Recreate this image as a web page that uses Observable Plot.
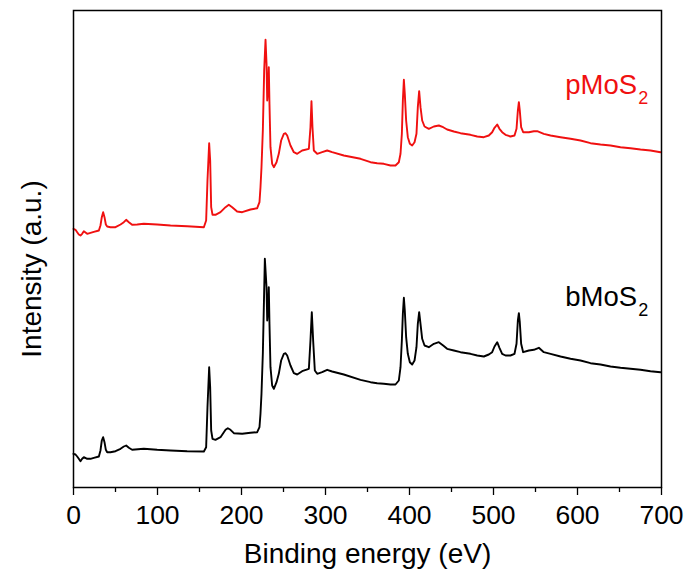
<!DOCTYPE html>
<html>
<head>
<meta charset="utf-8">
<script src="https://cdn.jsdelivr.net/npm/d3@7"></script>
<script src="https://cdn.jsdelivr.net/npm/@observablehq/plot@0.6"></script>
<style>
  html, body { margin: 0; padding: 0; background: #fff; }
  #chart svg { display: block; font-family: "Liberation Sans", Arial, sans-serif; }
</style>
</head>
<body>
<div id="chart"></div>
<script>
// Binding energy (eV) and intensity (a.u.)
const pEnergy = [0,2.4,4.4,6.3,8.3,10.3,12.3,14.3,16.3,20.2,24.2,30.2,32.1,33.7,35.3,36.9,38.5,40.1,44,50,56,59.9,62.7,65.9,69.8,75.8,83.7,99.6,115.5,135.3,155.2,157.9,159.5,161.5,162.7,163.9,165.5,169,175,181,184.9,188.9,194.8,200.8,210.7,218.7,221.4,222.6,223.8,225.4,227,228.6,229.8,230.6,231.7,232.5,233.3,234.5,236.5,238.5,241.7,244.4,247.2,250.4,252.4,254.4,258.3,262.3,266.3,272.2,280.2,282.1,283.3,284.5,286.1,290.1,296,302,307.9,321.8,341.7,
  353.6,361.5,369.4,377.4,383.3,387.3,389.3,390.9,392.1,393.3,394.4,396,398,400.4,403.2,406,408.3,409.9,411.5,413.1,415.1,417.9,423,429,434.9,440.1,444.8,452.8,460.7,472.6,480.6,488.5,494.4,498.4,501.2,504.4,507.1,510.3,514.3,520.2,525,527.4,529,530.2,531.3,532.9,535.3,542.1,548,552,559.9,567.9,579.8,591.7,603.6,615.5,627.4,639.3,651.2,663.1,675,686.9,698.8];
const pIntensity = [258.7,257.7,255.3,253,252,253.7,256.3,255,253.7,254.7,255.7,257,262,270.3,275.3,270.3,263,261,260.3,260.3,263,265.3,267.7,265.3,262.7,263,263.7,263,262,261.3,260.3,267,307,344.3,327,280.3,272.7,272.7,275.3,280.3,282.7,280.3,276,275.3,278,279.3,285.3,300.3,320.3,357,417,447.7,423.7,387,400.3,420.3,383.7,340.3,323.7,320.3,325.3,333.7,347,353.7,354.3,352,342,335.3,333.7,337,338.7,360.3,386.3,360.3,337,333.7,335.3,337,335.3,332,328.7,
  325.3,324.3,323.7,322,322,325.3,333.7,353.7,387,407.7,393.7,367,350.3,343.7,342,345.3,353.7,380.3,396.3,380.3,367,361,358.7,361,362,360.3,358,356,354.3,352.7,351,350.3,352,355.3,359.7,363,358.7,355.3,352.7,351,352,358.7,377,385.3,377,360.3,355.3,355.3,356.3,356.3,353.7,352,350.3,348.7,347,344.3,343,342,340.3,339.3,338,337,335.3];

const bEnergy = [0,2.4,4.4,6.3,8.3,10.3,12.3,16.3,20.2,24.2,30.2,32.1,33.7,35.3,36.9,38.5,40.1,44,50,56,59.9,62.7,65.9,69.8,83.7,99.6,115.5,135.3,155.2,157.9,159.5,161.5,162.7,163.9,165.5,169,175,181,183.7,186.9,190.9,200.8,210.7,218.7,221.4,222.6,223.8,225.4,227,227.8,229.8,230.6,231.7,232.5,233.3,234.5,236.5,238.5,241.7,244.4,247.2,250.4,252.4,254.4,258.3,262.3,266.3,272.2,280.2,282.1,283.7,285.3,287.3,290.1,296,302,307.9,321.8,341.7,
  353.6,361.5,369.4,377.4,383.3,387.3,389.3,390.9,392.1,393.3,394.4,396,398,400.4,403.2,406,408.3,409.9,411.5,413.1,415.1,417.9,423,429,434.9,440.1,444.8,452.8,460.7,472.6,480.6,488.5,494.4,498.4,501.2,504.4,507.1,510.3,514.3,520.2,525,527.4,529,530.2,531.3,532.9,535.3,542.1,548,554,559.9,567.9,579.8,591.7,603.6,615.5,627.4,639.3,651.2,663.1,675,686.9,698.8];
const bIntensity = [33.7,33,31,28.7,26.3,28.7,30.3,28.7,28.7,29.7,31,37,47,50.3,45.3,37.7,35.3,35.3,36.3,38.7,41,42,39.7,37.7,38.7,37.7,37,36.3,36,40.3,80.3,120.3,100.3,57,48.7,47.7,50.3,57.7,59.3,57.7,54.3,53.7,54.7,55.3,60.3,73.7,93.7,133.7,197,228.7,200.3,167,180.3,200.3,163.7,120.3,102,98.7,105.3,113.7,127,133.7,134.3,132,122,114.3,113,116.3,118.7,147,175.3,147,117,113.7,115.3,117.7,116,113,107.7,
  105.3,104.3,103.7,103,103,107,120.3,147,173.7,189.7,177,150.3,133.7,125.3,123,127,140.3,163.7,175.3,163.7,148.7,142,140.3,143.7,145.3,142,138.7,137,135.3,133.7,132,131,133,135.3,141,145.3,139.7,133.7,132,132,133.7,143.7,167,174.3,165.3,143.7,135.3,137,137.7,139.7,135.3,133.7,131,128.7,127,124.3,123,121,119.7,118.7,117.7,116.3,115.3];

const majorTicks = [0,100,200,300,400,500,600,700];
const minorTicks = [50,150,250,350,450,550,650];
const seriesNames = ["pMoS", "bMoS"];
const seriesSub = "2";
const labelPos = [{x: 671, y: 394}, {x: 671, y: 182}];
const xTitle = "Binding energy (eV)";
const yTitle = "Intensity (a.u.)";

const red = "#f01010";
const pData = pEnergy.map((e, i) => ({e, v: pIntensity[i]}));
const bData = bEnergy.map((e, i) => ({e, v: bIntensity[i]}));
const labels = seriesNames.map((n, i) => ({name: n, x: labelPos[i].x, y: labelPos[i].y, color: i === 0 ? red : "#000"}));

const chart = Plot.plot({
  width: 689,
  height: 581,
  marginLeft: 73,
  marginRight: 28,
  marginTop: 10,
  marginBottom: 94,
  style: {fontFamily: "Liberation Sans, Arial, sans-serif", background: "#fff", color: "#000"},
  x: {domain: [0, 700]},
  y: {domain: [0, 477], axis: null},
  marks: [
    Plot.line(bData, {x: "e", y: "v", stroke: "#000", strokeWidth: 1.9}),
    Plot.line(pData, {x: "e", y: "v", stroke: red, strokeWidth: 1.9}),
    Plot.frame({stroke: "#000", strokeWidth: 1.5}),
    Plot.axisX(minorTicks, {tickSize: 5, tickFormat: () => "", label: null, strokeWidth: 1.3}),
    Plot.axisX(majorTicks, {tickSize: 8, tickPadding: 10, fontSize: 26.5, label: null, strokeWidth: 1.3}),
    Plot.text(labels, {x: "x", y: "y", text: "name", fill: "color", textAnchor: "end", lineAnchor: "bottom", fontSize: 27.5}),
    Plot.text(labels, {x: "x", y: "y", text: () => seriesSub, fill: "color", textAnchor: "start", lineAnchor: "bottom", fontSize: 18, dx: 1, dy: 10}),
    Plot.text([xTitle], {frameAnchor: "bottom", lineAnchor: "bottom", textAnchor: "middle", dy: 75, fontSize: 28, fill: "#000"}),
    Plot.text([yTitle], {frameAnchor: "left", textAnchor: "middle", rotate: -90, dx: -41, dy: 20, fontSize: 28, fill: "#000"})
  ]
});
document.getElementById("chart").appendChild(chart);
</script>
</body>
</html>
